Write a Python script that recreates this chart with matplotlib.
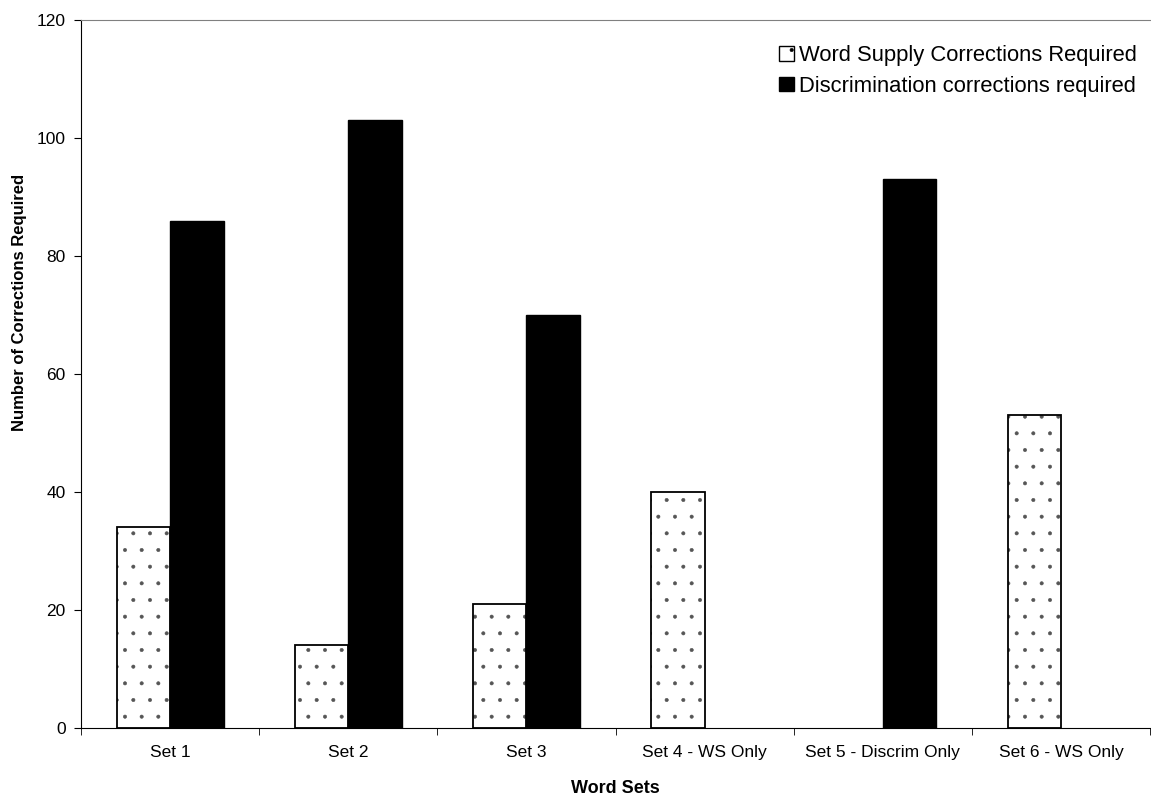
import numpy as np
import matplotlib.pyplot as plt
from matplotlib.patches import Patch

plt.rcParams['font.family'] = ['Liberation Sans', 'DejaVu Sans']
plt.rcParams['hatch.linewidth'] = 0.4

word_sets = ['Set 1', 'Set 2', 'Set 3', 'Set 4 - WS Only', 'Set 5 - Discrim Only', 'Set 6 - WS Only']
word_supply = [34, 14, 21, 40, 0, 53]
discrimination = [86, 103, 70, 0, 93, 0]

fig = plt.figure(figsize=(11.51, 7.97), dpi=100)
ax = fig.add_axes([0.0704, 0.0866, 0.9288, 0.8883])

x = np.arange(len(word_sets))
w = 0.3
ws_x = [xi - w / 2 for xi, v in zip(x, word_supply) if v > 0]
ws_v = [v for v in word_supply if v > 0]
d_x = [xi + w / 2 for xi, v in zip(x, discrimination) if v > 0]
d_v = [v for v in discrimination if v > 0]

# dotted fill in grey, then a black outline on top
ax.bar(ws_x, ws_v, w, color='white', edgecolor='#555555', hatch='.', linewidth=0)
ax.bar(ws_x, ws_v, w, color='none', edgecolor='black', linewidth=1.3)
ax.bar(d_x, d_v, w, color='black', edgecolor='black', linewidth=1)

ax.set_xlim(-0.5, 5.5)
ax.set_ylim(0, 120)
ax.set_yticks(range(0, 121, 20))
ax.set_xticks(x)
ax.set_xticklabels(word_sets, fontsize=12.5)
ax.set_xticks(np.arange(-0.5, 5.6, 1), minor=True)
ax.tick_params(axis='x', which='major', length=0, pad=12)
ax.tick_params(axis='x', which='minor', length=5, direction='out')
ax.tick_params(axis='y', labelsize=12.5, length=5, pad=6)

ax.spines['right'].set_visible(False)
ax.spines['top'].set_color('#808080')

ax.set_xlabel('Word Sets', fontsize=13, fontweight='bold', labelpad=15)
ax.set_ylabel('Number of Corrections Required', fontsize=12, fontweight='bold')
ax.yaxis.set_label_coords(-0.0505, 0.6017)

handles = [Patch(facecolor='white', edgecolor='black', hatch='.', linewidth=1),
           Patch(facecolor='black', edgecolor='black')]
labels = ['Word Supply Corrections Required', 'Discrimination corrections required']
ax.legend(handles, labels, loc='upper right', bbox_to_anchor=(1137 / 1151, 1 - 45 / 797),
          bbox_transform=fig.transFigure, frameon=False, fontsize=15.8, borderpad=0,
          borderaxespad=0, handlelength=0.65, handleheight=0.65, handletextpad=0.25,
          labelspacing=0.45)

fig.savefig('out.png', dpi=100)
